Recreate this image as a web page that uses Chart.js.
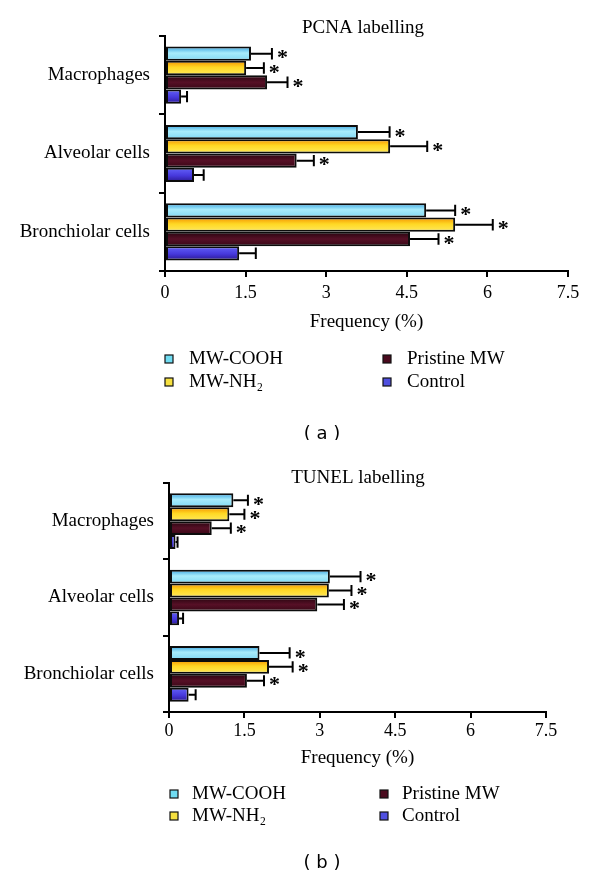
<!DOCTYPE html>
<html>
<head>
<meta charset="utf-8">
<script src="https://cdn.jsdelivr.net/npm/chart.js@4.4.1/dist/chart.umd.min.js"></script>
<style>
body { margin: 0; background: #fff; }
canvas { display: block; }
</style>
</head>
<body>
<canvas id="chartA" width="600" height="440"></canvas>
<canvas id="chartB" width="600" height="440"></canvas>
<script>
// DATOS
var categorias = ['Macrophages', 'Alveolar cells', 'Bronchiolar cells'];
var series = ['MW-COOH', 'MW-NH₂', 'Pristine MW', 'Control'];
var ticksX = [0, 1.5, 3, 4.5, 6, 7.5];

// (a) PCNA labelling
var pcnaCooh = [1.60, 3.59, 4.86];
var pcnaNh2 = [1.51, 4.19, 5.40];
var pcnaPristine = [1.90, 2.45, 4.56];
var pcnaControl = [0.30, 0.54, 1.38];
var pcnaCoohErr = [0.39, 0.59, 0.54];
var pcnaNh2Err = [0.33, 0.69, 0.70];
var pcnaPristineErr = [0.38, 0.32, 0.53];
var pcnaControlErr = [0.11, 0.18, 0.31];

// (b) TUNEL labelling
var tunelCooh = [1.28, 3.20, 1.80];
var tunelNh2 = [1.20, 3.18, 1.99];
var tunelPristine = [0.85, 2.95, 1.55];
var tunelControl = [0.13, 0.20, 0.39];
var tunelCoohErr = [0.29, 0.61, 0.60];
var tunelNh2Err = [0.30, 0.45, 0.47];
var tunelPristineErr = [0.38, 0.53, 0.34];
var tunelControlErr = [0.04, 0.08, 0.14];

// asterisco en todas las series menos Control
var significativo = [true, true, true, false];

// COLORES (degradado vertical de cada barra)
var degradados = [
    [[0, '#36a2e0'], [0.45, '#a8ecfb'], [1, '#80d8f4']],
    [[0, '#f49200'], [0.45, '#ffd824'], [1, '#ffea5c']],
    [[0, '#26040e'], [0.5, '#561026'], [1, '#380716']],
    [[0, '#6464fa'], [0.55, '#4638dc'], [1, '#2a1890']]
];
var coloresLeyenda = ['#70dcf2', '#f6e040', '#4a0a1e', '#5050e0'];

var CAT_PCT = 0.73;
var serif = '"Liberation Serif", "Times New Roman", serif';

function degradado(ctx) {
    var i = ctx.datasetIndex;
    var chart = ctx.chart;
    if (ctx.type !== 'data' || !chart.chartArea || !chart.scales.y) {
        return coloresLeyenda[i];
    }
    var ys = chart.scales.y;
    var banda = ys.height / chart.data.labels.length;
    var grupo = banda * CAT_PCT;
    var alto = grupo / chart.data.datasets.length;
    var arriba = ys.getPixelForValue(ctx.dataIndex) - grupo / 2 + alto * i;
    if (!isFinite(arriba)) return coloresLeyenda[i];
    var g = chart.ctx.createLinearGradient(0, arriba, 0, arriba + alto);
    degradados[i].forEach(function (s) { g.addColorStop(s[0], s[1]); });
    return g;
}

// BARRAS DE ERROR Y ASTERISCOS
var pluginErrores = {
    id: 'errores',
    afterDatasetsDraw: function (chart) {
        var c = chart.ctx;
        var xs = chart.scales.x;
        c.save();
        c.strokeStyle = '#000';
        c.fillStyle = '#000';
        c.lineWidth = 2;
        chart.data.datasets.forEach(function (ds, i) {
            var meta = chart.getDatasetMeta(i);
            meta.data.forEach(function (bar, j) {
                var fin = xs.getPixelForValue(ds.data[j] + ds.errores[j]);
                var y = bar.y;
                var h = bar.height * 0.4;
                c.beginPath();
                c.moveTo(bar.x, y);
                c.lineTo(fin, y);
                c.moveTo(fin, y - h);
                c.lineTo(fin, y + h);
                c.stroke();
                if (ds.asterisco) {
                    c.font = 'bold 22px ' + serif;
                    c.textAlign = 'left';
                    c.textBaseline = 'middle';
                    c.fillText('*', fin + 5, y + 5);
                }
            });
        });
        c.restore();
    }
};

// TITULO, LEYENDA Y LETRA DEL PANEL
var pluginTextos = {
    id: 'textos',
    afterDraw: function (chart, args, op) {
        var c = chart.ctx;
        c.save();
        c.fillStyle = '#000';
        c.textBaseline = 'middle';
        c.textAlign = 'center';
        c.font = '19px ' + serif;
        c.fillText(op.titulo, op.tituloX, op.tituloY);

        c.font = '19px ' + serif;
        c.textAlign = 'left';
        chart.data.datasets.forEach(function (ds, i) {
            var col = Math.floor(i / 2);
            var fila = i % 2;
            var cx = op.cuadroX[col];
            var cy = op.filaY[fila];
            c.fillStyle = coloresLeyenda[i];
            c.fillRect(cx - 4, cy - 4, 8, 8);
            c.strokeStyle = '#111';
            c.lineWidth = 1.2;
            c.strokeRect(cx - 4, cy - 4, 8, 8);
            c.fillStyle = '#000';
            c.fillText(ds.label, op.textoX[col], cy);
        });

        c.textAlign = 'center';
        c.font = '18px "DejaVu Sans", sans-serif';
        c.fillText(op.panel, op.panelX, op.panelY);
        c.restore();
    }
};

function crearGrafica(id, valores, errores, cfg) {
    var datasets = series.map(function (nombre, i) {
        return {
            label: nombre,
            data: valores[i],
            errores: errores[i],
            asterisco: significativo[i],
            backgroundColor: degradado,
            borderColor: '#0c0c0c',
            borderWidth: 2,
            borderSkipped: false,
            categoryPercentage: CAT_PCT,
            barPercentage: 1
        };
    });

    return new Chart(document.getElementById(id), {
        type: 'bar',
        data: { labels: categorias, datasets: datasets },
        plugins: [pluginErrores, pluginTextos],
        options: {
            indexAxis: 'y',
            responsive: false,
            animation: false,
            layout: { padding: { top: cfg.arriba, right: cfg.derecha, bottom: cfg.abajo, left: 0 } },
            plugins: {
                legend: { display: false },
                tooltip: { enabled: false },
                textos: cfg.textos
            },
            scales: {
                y: {
                    afterFit: function (s) { s.width = cfg.izquierda; },
                    grid: { offset: true, drawOnChartArea: false, color: '#000', lineWidth: 2, tickLength: 6 },
                    border: { color: '#000', width: 2 },
                    ticks: { color: '#000', padding: cfg.padCat, font: { family: serif, size: 19 } }
                },
                x: {
                    min: 0,
                    max: 7.5,
                    afterBuildTicks: function (s) {
                        s.ticks = ticksX.map(function (v) { return { value: v }; });
                    },
                    afterFit: function (s) { s.height = cfg.altoX; },
                    grid: { drawOnChartArea: false, color: '#000', lineWidth: 2, tickLength: 6 },
                    border: { color: '#000', width: 2 },
                    ticks: { color: '#000', padding: cfg.padTicks, maxRotation: 0, font: { family: serif, size: 18 } },
                    title: {
                        display: true,
                        text: 'Frequency (%)',
                        color: '#000',
                        padding: 0,
                        font: { family: serif, size: 19 }
                    }
                }
            }
        }
    });
}

crearGrafica('chartA',
    [pcnaCooh, pcnaNh2, pcnaPristine, pcnaControl],
    [pcnaCoohErr, pcnaNh2Err, pcnaPristineErr, pcnaControlErr],
    {
        arriba: 36, derecha: 32, abajo: 107, izquierda: 165, altoX: 62, padCat: 9, padTicks: 5,
        textos: {
            titulo: 'PCNA labelling', tituloX: 363, tituloY: 28,
            cuadroX: [169, 387], textoX: [189, 407], filaY: [359, 382],
            panel: '( a )', panelX: 322, panelY: 434
        }
    });

crearGrafica('chartB',
    [tunelCooh, tunelNh2, tunelPristine, tunelControl],
    [tunelCoohErr, tunelNh2Err, tunelPristineErr, tunelControlErr],
    {
        arriba: 43, derecha: 54, abajo: 111, izquierda: 169, altoX: 57, padCat: 9, padTicks: 2,
        textos: {
            titulo: 'TUNEL labelling', tituloX: 358, tituloY: 38,
            cuadroX: [174, 384], textoX: [192, 402], filaY: [354, 376],
            panel: '( b )', panelX: 322, panelY: 423
        }
    });
</script>
</body>
</html>
